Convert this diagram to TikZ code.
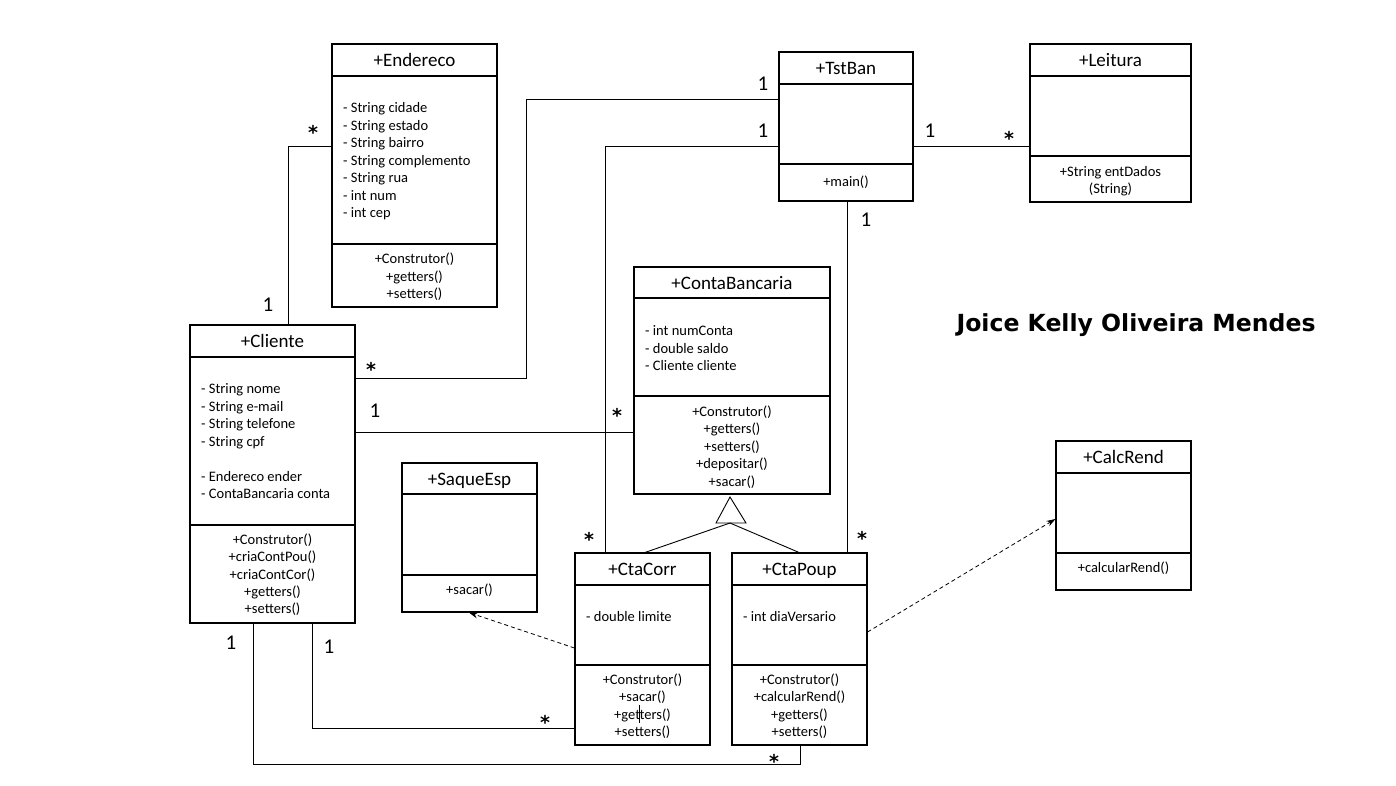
\documentclass[tikz,border=0pt]{standalone}
\usepackage{fontspec}
\usepackage{graphicx}
\setmainfont{Carlito}
\newfontfamily\namefont{DejaVu Sans}
\usetikzlibrary{fit,arrows.meta}
\newcommand\umlbox[8]{%
  \node[box, fit={(#2,#3)(#4,#5)}] (#1) {};
  \draw[div] (#2,#6) -- (#4,#6);
  \draw[div] (#2,#7) -- (#4,#7);
  \node[ttl] (#1-t) at ({(#2+#4)/2},{(#3+#6)/2+6.5}) {#8};}
\begin{document}
\begin{tikzpicture}[x=1pt,y=-1pt,
  box/.style={draw, line width=1.1pt, inner sep=0pt},
  div/.style={line width=1.1pt},
  ttl/.style={font=\fontsize{19}{23}\selectfont, inner sep=0pt, anchor=base},
  attr/.style={font=\fontsize{14.5}{17.5}\selectfont, inner sep=0pt, anchor=base west},
  meth/.style={font=\fontsize{14.5}{17.5}\selectfont, inner sep=0pt, anchor=base},
  lnk/.style={line width=0.9pt},
  mult/.style={font=\fontsize{21}{24}\selectfont, inner sep=0pt},
  mstar/.style={font=\namefont\bfseries\fontsize{19}{22}\selectfont, inner sep=0pt, yshift=-4pt},
  dep/.style={line width=0.8pt, dash pattern=on 4pt off 3pt, -{Stealth[length=9pt,width=6pt]}}]
\fill[white] (0,0) rectangle (1396,785);
\useasboundingbox (0,0) rectangle (1396,785);

% classes
\umlbox{end}{332}{44}{497}{307}{76}{244}{+Endereco}
\umlbox{cli}{190}{325}{355}{623}{357}{525}{+Cliente}
\umlbox{tst}{779}{52}{913}{201}{84}{164}{+TstBan}
\umlbox{lei}{1030}{44}{1191}{202}{76}{156}{+Leitura}
\umlbox{cb}{634}{267}{830}{494}{298}{396}{+ContaBancaria}
\umlbox{saq}{402}{463}{537}{612}{494}{575}{+SaqueEsp}
\umlbox{calc}{1056}{441}{1191}{590}{473}{553}{+CalcRend}
\umlbox{corr}{575}{553}{710}{745}{585}{665}{+CtaCorr}
\umlbox{poup}{732}{553}{867}{745}{585}{665}{+CtaPoup}

% Endereco
\foreach \yy/\tt [count=\i] in {107/{- String cidade},125/{- String estado},142/{- String bairro},160/{- String complemento},177/{- String rua},195/{- int num},212/{- int cep}}
  \node[attr] (end-a\i) at (343,\yy+5) {\tt};
\foreach \yy/\tt [count=\i] in {258/{+Construtor()},276/{+getters()},293/{+setters()}}
  \node[meth] (end-m\i) at (414.5,\yy+5) {\tt};

% Cliente
\foreach \yy/\tt [count=\i] in {388/{- String nome},406/{- String e-mail},423/{- String telefone},441/{- String cpf},476/{- Endereco ender},493/{- ContaBancaria conta}}
  \node[attr] (cli-a\i) at (201,\yy+5) {\tt};
\foreach \yy/\tt [count=\i] in {539/{+Construtor()},556/{+criaContPou()},574/{+criaContCor()},591/{+getters()},608/{+setters()}}
  \node[meth] (cli-m\i) at (272.5,\yy+5) {\tt};

% TstBan
\node[meth] (tst-m1) at (846,181+5) {+main()};

% Leitura
\node[meth] (lei-m1) at (1110.5,171+5) {+String entDados};
\node[meth] (lei-m2) at (1110.5,188+5) {(String)};

% ContaBancaria
\foreach \yy/\tt [count=\i] in {330/{- int numConta},348/{- double saldo},365/{- Cliente cliente}}
  \node[attr] (cb-a\i) at (645,\yy+5) {\tt};
\foreach \yy/\tt [count=\i] in {411/{+Construtor()},428/{+getters()},446/{+setters()},463/{+depositar()},481/{+sacar()}}
  \node[meth] (cb-m\i) at (732,\yy+5) {\tt};

% SaqueEsp, CalcRend
\node[meth] (saq-m1) at (469.5,589+5) {+sacar()};
\node[meth] (calc-m1) at (1123.5,567+5) {+calcularRend()};

% CtaCorr
\node[attr] (corr-a1) at (586,616+5) {- double limite};
\foreach \yy/\tt [count=\i] in {679/{+Construtor()},696/{+sacar()},714/{+getters()},731/{+setters()}}
  \node[meth] (corr-m\i) at (642.5,\yy+5) {\tt};
\draw[line width=0.7pt] (639,705) -- (639,723);

% CtaPoup
\node[attr] (poup-a1) at (743,616+5) {- int diaVersario};
\foreach \yy/\tt [count=\i] in {679/{+Construtor()},696/{+calcularRend()},714/{+getters()},731/{+setters()}}
  \node[meth] (poup-m\i) at (799.5,\yy+5) {\tt};

% inheritance
\coordinate (apex) at (730,497);
\draw[line width=0.9pt] (apex) -- (716,523) -- (746,523) -- cycle;
\coordinate (tribase) at (730,523);
\draw[lnk] (tribase) -- (corr.north -| 645,0);
\draw[lnk] (tribase) -- (poup.north -| 799,0);

% associations
\draw[lnk] (end.west |- 0,146) -| (cli.north -| 288,0);
\draw[lnk] (cli.east |- 0,378) -| (526,99) -- (tst.west |- 0,99);
\draw[lnk] (cli.east |- 0,432) -- (cb.west |- 0,432);
\draw[lnk] (tst.west |- 0,146) -| (corr.north -| 605,0);
\draw[lnk] (tst.east |- 0,146) -- (lei.west |- 0,146);
\draw[lnk] (tst.south -| 847,0) -- (poup.north -| 847,0);
\draw[lnk] (cli.south -| 312,0) |- (corr.west |- 0,728);
\draw[lnk] (cli.south -| 253,0) |- (800,764) -- (poup.south -| 800,0);

% dependencies
\draw[dep] (corr.west |- 0,648) -- (saq.south -| 469,0);
\draw[dep] (poup.east |- 0,632) -- (calc.west |- 0,519);

% multiplicities
\node[mstar] (m1) at (313,128) {*};
\node[mult] (m2) at (268,305) {1};
\node[mstar] (m3) at (371,365) {*};
\node[mult] (m4) at (763,84) {1};
\node[mult] (m5) at (375,411) {1};
\node[mstar] (m6) at (617,411) {*};
\node[mult] (m7) at (763,131) {1};
\node[mstar] (m8) at (589,535) {*};
\node[mult] (m9) at (930,131) {1};
\node[mstar] (m10) at (1009,134) {*};
\node[mult] (m11) at (866,220) {1};
\node[mstar] (m12) at (862,534) {*};
\node[mult] (m13) at (329,647) {1};
\node[mstar] (m14) at (545,718) {*};
\node[mult] (m15) at (231,643) {1};
\node[mstar] (m16) at (774,757) {*};

% author
\node[inner sep=0pt] (author) at (1136,325) {\resizebox{359pt}{!}{\namefont\bfseries Joice Kelly Oliveira Mendes}};
\end{tikzpicture}
\end{document}
